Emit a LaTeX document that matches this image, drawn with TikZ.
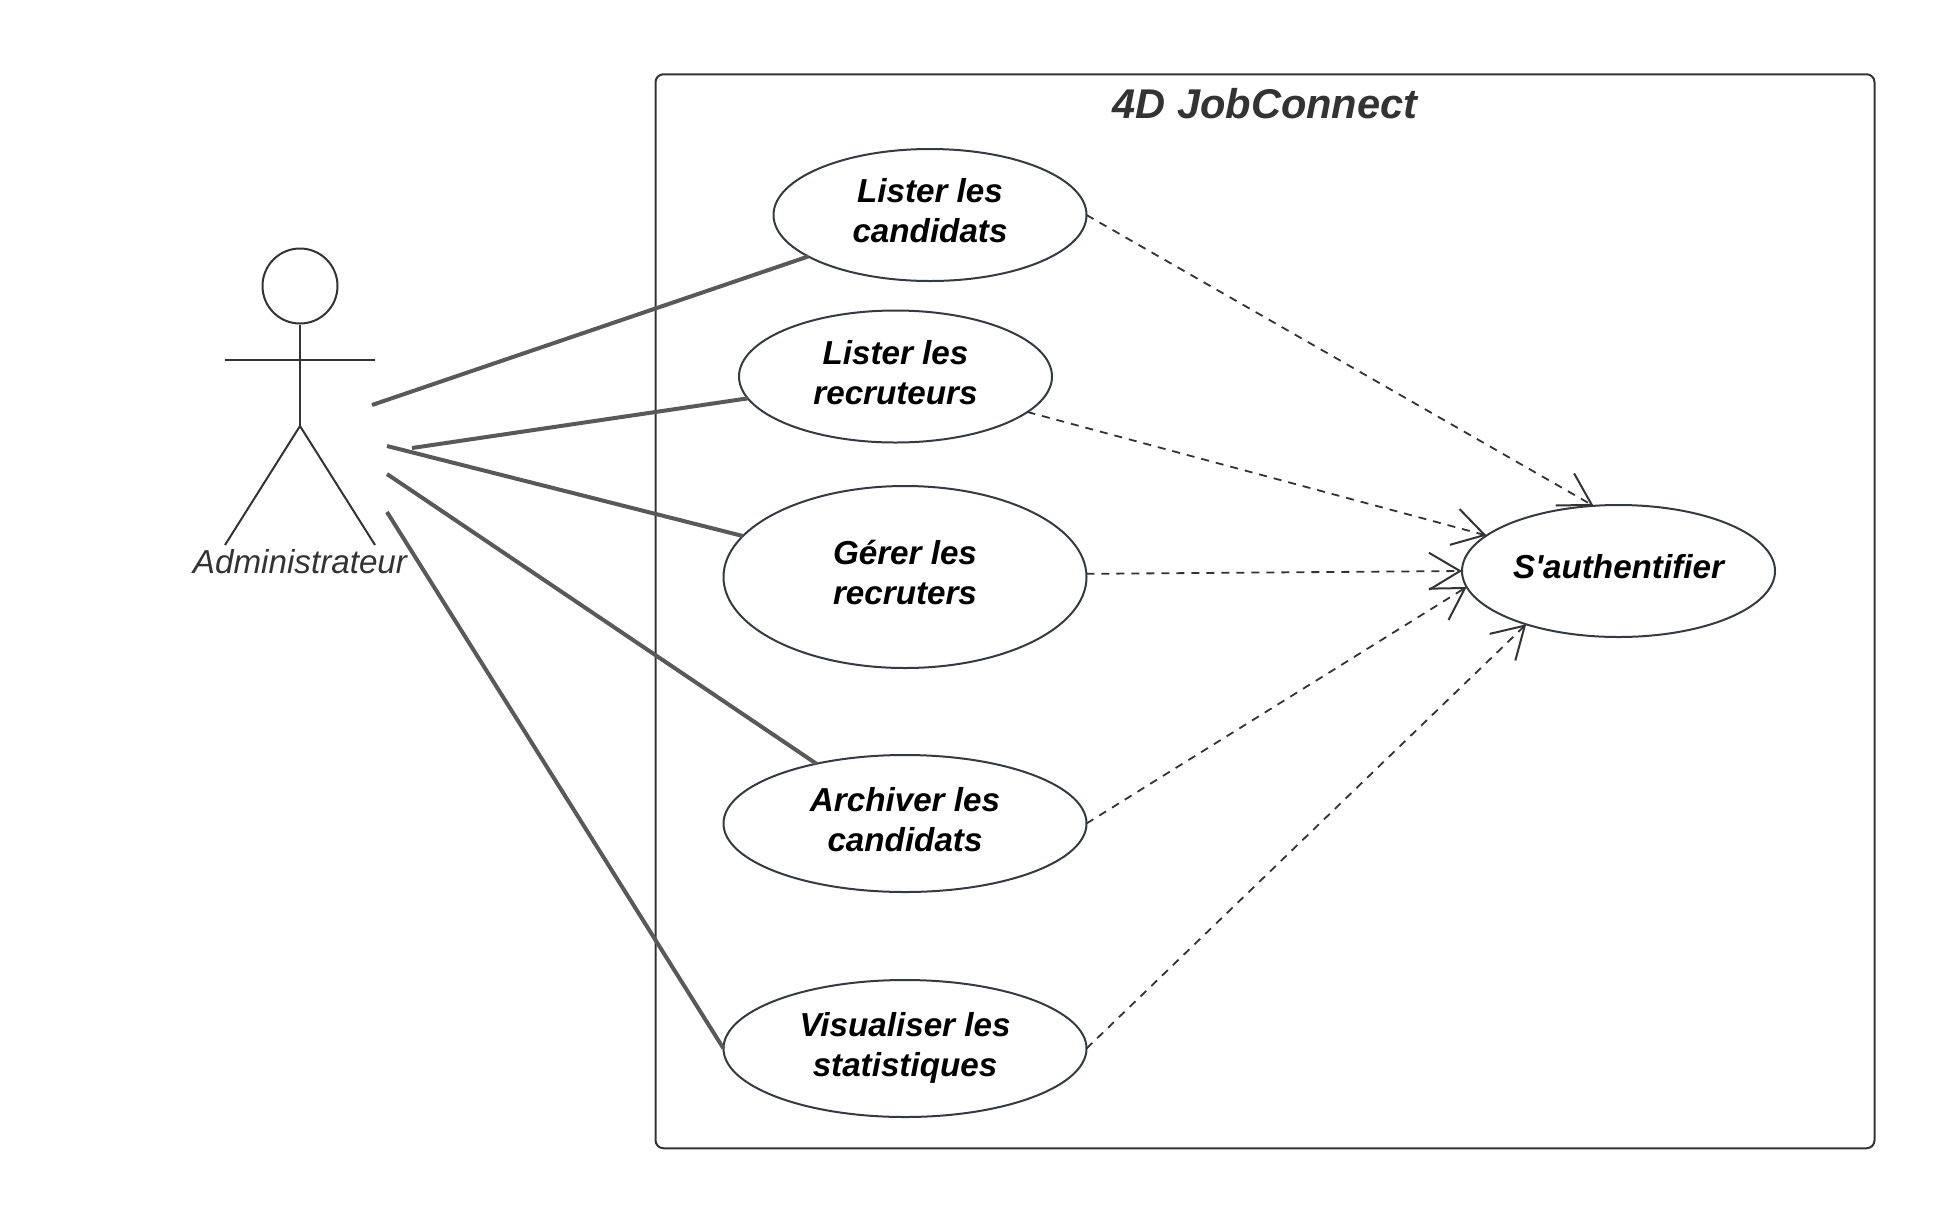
\documentclass[tikz,border=0pt]{standalone}
\usepackage{fontspec}
\setmainfont{Liberation Sans}
\usepackage{xcolor}
\usepackage{tikz}
\usetikzlibrary{arrows.meta,positioning,shapes.geometric}
\definecolor{umlink}{HTML}{333A44}
\definecolor{umlline}{HTML}{333333}
\definecolor{umlgray}{HTML}{595959}
\definecolor{umltext}{HTML}{333333}

\begin{document}
\begin{tikzpicture}[
  x=1pt, y=-1pt,
  usecase/.style={ellipse, draw=umlink, line width=2pt, inner sep=0pt, outer sep=0pt,
    minimum width=313pt, align=center, text=black, text depth=9pt,
    font=\fontsize{33.2}{40}\selectfont\bfseries\itshape},
  frame/.style={draw=umlline, line width=2pt, rounded corners=8pt,
    minimum width=1219pt, minimum height=1074pt},
  title/.style={text=umltext, font=\fontsize{41.6}{48}\selectfont\bfseries\itshape},
  stick/.style={draw=umlline, line width=2pt},
  assoc/.style={draw=umlgray, line width=4pt},
  depend/.style={draw=umlline, line width=1.8pt, dash pattern=on 8pt off 7pt,
    -{Straight Barb[length=31pt, width=37pt, line width=2pt]}}
]
  \useasboundingbox (0,0) rectangle (1950,1224);

  \node[frame] (system) at (1265,611.25) {};
  \node[title] (systemname) at (1265,104) {4D JobConnect};

  \node[usecase, minimum height=132pt] (candidats) at (930,215) {Lister les\\candidats};
  \node[usecase, minimum height=132pt] (recruteurs) at (895.5,376.5) {Lister les\\recruteurs};
  \node[usecase, minimum width=363pt, minimum height=182pt] (gerer) at (905,577) {Gérer les\\recruters};
  \node[usecase, minimum width=363pt, minimum height=137pt] (archiver) at (905,823.5) {Archiver les\\candidats};
  \node[usecase, minimum width=363pt, minimum height=137pt] (stats) at (905,1048.5) {Visualiser les\\statistiques};
  \node[usecase, minimum height=132pt] (auth) at (1618.5,571) {S\textquotesingle authentifier};

  \node[circle, stick, inner sep=0pt, minimum size=75pt] (head) at (300,286) {};
  \coordinate (armL) at (225,360);
  \coordinate (armR) at (375,360);
  \coordinate (hip) at (300,426);
  \coordinate (footL) at (225,545);
  \coordinate (footR) at (375,545);
  \node[text=umltext, font=\fontsize{33.2}{40}\selectfont\itshape] (admin) at (300,562) {Administrateur};
  \draw[stick] (head) -- (hip);
  \draw[stick] (armL) -- (armR);
  \draw[stick] (footL) -- (hip) -- (footR);

  \coordinate (fromA) at (372,405);
  \coordinate (fromB) at (412,448);
  \coordinate (fromC) at (387,446);
  \coordinate (fromD) at (387,474);
  \coordinate (fromE) at (387,512);

  \draw[assoc] (fromA) -- (candidats);
  \draw[assoc] (fromB) -- (recruteurs);
  \draw[assoc] (fromC) -- (gerer);
  \draw[assoc] (fromD) -- (archiver);
  \draw[assoc] (fromE) -- (stats.west);

  \draw[depend] (candidats.east) -- (auth.111);
  \draw[depend] (recruteurs) -- (auth);
  \draw[depend] (gerer.1) -- (auth.west);
  \draw[depend] (archiver.east) -- (auth.186);
  \draw[depend] (stats.east) -- (auth.210);
\end{tikzpicture}
\end{document}
